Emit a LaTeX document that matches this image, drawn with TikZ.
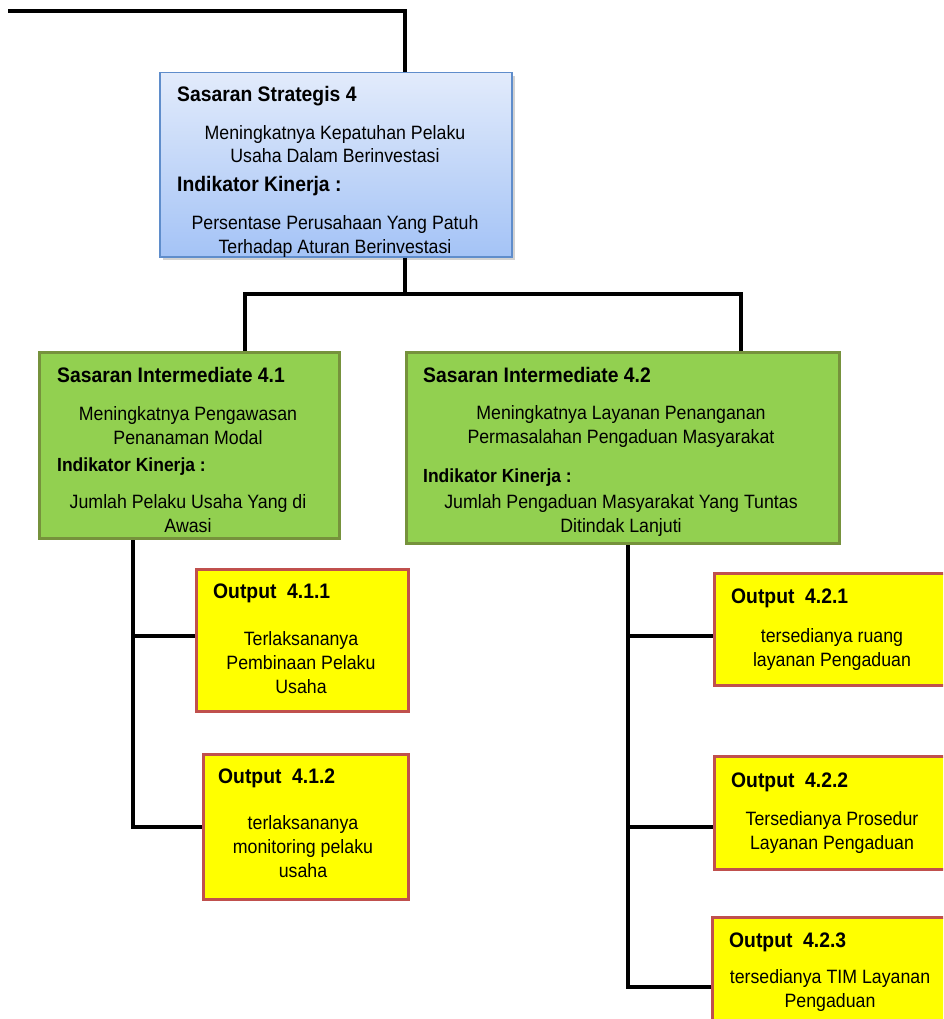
\documentclass[tikz,border=0pt]{standalone}
\usepackage{fontspec}
\setmainfont{Liberation Sans}[FakeStretch=0.92]
\usepackage{tikz}
\usetikzlibrary{calc}
\usetikzlibrary{positioning}
\usetikzlibrary{shadows}
\definecolor{sasTop}{HTML}{E2EBFB}
\definecolor{sasBot}{HTML}{A4C3F6}
\definecolor{sasLine}{HTML}{5F8DCB}
\definecolor{intFill}{HTML}{92D050}
\definecolor{intLine}{HTML}{76923C}
\definecolor{outFill}{HTML}{FFFF00}
\definecolor{outLine}{HTML}{C0504D}
\tikzstyle{sasbox} = [draw=sasLine, line width=1.5pt, top color=sasTop, bottom color=sasBot, anchor=north west, inner sep=0, drop shadow={shadow xshift=3pt, shadow yshift=-3pt, opacity=0.35}]
\tikzstyle{intbox} = [draw=intLine, line width=3pt, fill=intFill, anchor=north west, inner sep=0]
\tikzstyle{outbox} = [draw=outLine, line width=3pt, fill=outFill, anchor=north west, inner sep=0]
\tikzstyle{headtext} = [anchor=base west, inner sep=0, font=\bfseries\fontsize{21}{25}\selectfont]
\tikzstyle{smallhead} = [anchor=base west, inner sep=0, font=\bfseries\fontsize{19}{23}\selectfont]
\tikzstyle{bodytext} = [anchor=base, align=center, inner sep=0, font=\fontsize{19.3}{23.8}\selectfont]
\tikzstyle{linkline} = [line width=4pt, black]

\begin{document}
\begin{tikzpicture}[x=1pt, y=-1pt]
    \useasboundingbox (0,0) rectangle (943,1019);
    \clip (0,0) rectangle (943,1019);
    \fill[white] (0,0) rectangle (943,1019);

    \node[sasbox, minimum width=352, minimum height=184] (sas4) at (159,72) {};
    \node[headtext] (sas4_head) at ($(sas4.north west)+(18,30)$) {Sasaran Strategis 4};
    \node[bodytext] (sas4_goal) at ($(sas4.north west)+(176,91)$) {Meningkatnya Kepatuhan Pelaku\\Usaha Dalam Berinvestasi};
    \node[headtext] (sas4_ind) at ($(sas4.north west)+(18,120)$) {Indikator Kinerja :};
    \node[bodytext] (sas4_val) at ($(sas4.north west)+(176,181)$) {Persentase Perusahaan Yang Patuh\\Terhadap Aturan Berinvestasi};

    \node[intbox, minimum width=300, minimum height=186] (int41) at (38,351) {};
    \node[headtext] (int41_head) at ($(int41.north west)+(19,31)$) {Sasaran Intermediate 4.1};
    \node[bodytext] (int41_goal) at ($(int41.north west)+(150,93)$) {Meningkatnya Pengawasan\\Penanaman Modal};
    \node[smallhead] (int41_ind) at ($(int41.north west)+(19,120)$) {Indikator Kinerja :};
    \node[bodytext] (int41_val) at ($(int41.north west)+(150,181)$) {Jumlah Pelaku Usaha Yang di\\Awasi};

    \node[intbox, minimum width=433, minimum height=191] (int42) at (405,351) {};
    \node[headtext] (int42_head) at ($(int42.north west)+(18,31)$) {Sasaran Intermediate 4.2};
    \node[bodytext] (int42_goal) at ($(int42.north west)+(216,92)$) {Meningkatnya Layanan Penanganan\\Permasalahan Pengaduan Masyarakat};
    \node[smallhead] (int42_ind) at ($(int42.north west)+(18,131)$) {Indikator Kinerja :};
    \node[bodytext] (int42_val) at ($(int42.north west)+(216,181)$) {Jumlah Pengaduan Masyarakat Yang Tuntas\\Ditindak Lanjuti};

    \node[outbox, minimum width=212, minimum height=142] (out411) at (195,568) {};
    \node[headtext] (out411_head) at ($(out411.north west)+(18,30)$) {Output~~4.1.1};
    \node[bodytext] (out411_txt) at ($(out411.north west)+(106,125)$) {Terlaksananya\\Pembinaan Pelaku\\Usaha};

    \node[outbox, minimum width=205, minimum height=145] (out412) at (202,753) {};
    \node[headtext] (out412_head) at ($(out412.north west)+(16,30)$) {Output~~4.1.2};
    \node[bodytext] (out412_txt) at ($(out412.north west)+(101,124)$) {terlaksananya\\monitoring pelaku\\usaha};

    \node[outbox, minimum width=238, minimum height=112] (out421) at (713,572) {};
    \node[headtext] (out421_head) at ($(out421.north west)+(18,31)$) {Output~~4.2.1};
    \node[bodytext] (out421_txt) at ($(out421.north west)+(119,94)$) {tersedianya ruang\\layanan Pengaduan};

    \node[outbox, minimum width=238, minimum height=113] (out422) at (713,755) {};
    \node[headtext] (out422_head) at ($(out422.north west)+(18,32)$) {Output~~4.2.2};
    \node[bodytext] (out422_txt) at ($(out422.north west)+(119,94)$) {Tersedianya Prosedur\\Layanan Pengaduan};

    \node[outbox, minimum width=238, minimum height=113] (out423) at (711,916) {};
    \node[headtext] (out423_head) at ($(out423.north west)+(18,31)$) {Output~~4.2.3};
    \node[bodytext] (out423_txt) at ($(out423.north west)+(119,91)$) {tersedianya TIM Layanan\\Pengaduan};

    \coordinate (start) at (8,11);
    \coordinate (sas4_in) at ($(sas4.north west)+(246,0)$);
    \coordinate (sas4_out) at ($(sas4.south west)+(246,0)$);
    \coordinate (split) at ($(sas4_out)+(0,36)$);
    \coordinate (int41_in) at ($(int41.north west)+(207,0)$);
    \coordinate (int42_in) at ($(int42.north west)+(336,0)$);
    \coordinate (int41_out) at ($(int41.south west)+(95,0)$);
    \coordinate (int42_out) at ($(int42.south west)+(223,0)$);
    \coordinate (out411_in) at ($(out411.north west)+(0,68)$);
    \coordinate (out412_in) at ($(out412.north west)+(0,74)$);
    \coordinate (out421_in) at ($(out421.north west)+(0,64)$);
    \coordinate (out422_in) at ($(out422.north west)+(0,72)$);
    \coordinate (out423_in) at ($(out423.north west)+(0,71)$);

    \draw[linkline] (start) -| (sas4_in);
    \draw[linkline] (sas4_out) -- (split);
    \draw[linkline] (int41_in) |- (split) -| (int42_in);
    \draw[linkline] (int41_out) |- (out412_in);
    \draw[linkline] (int41_out |- out411_in) -- (out411_in);
    \draw[linkline] (int42_out) |- (out423_in);
    \draw[linkline] (int42_out |- out421_in) -- (out421_in);
    \draw[linkline] (int42_out |- out422_in) -- (out422_in);
\end{tikzpicture}
\end{document}
